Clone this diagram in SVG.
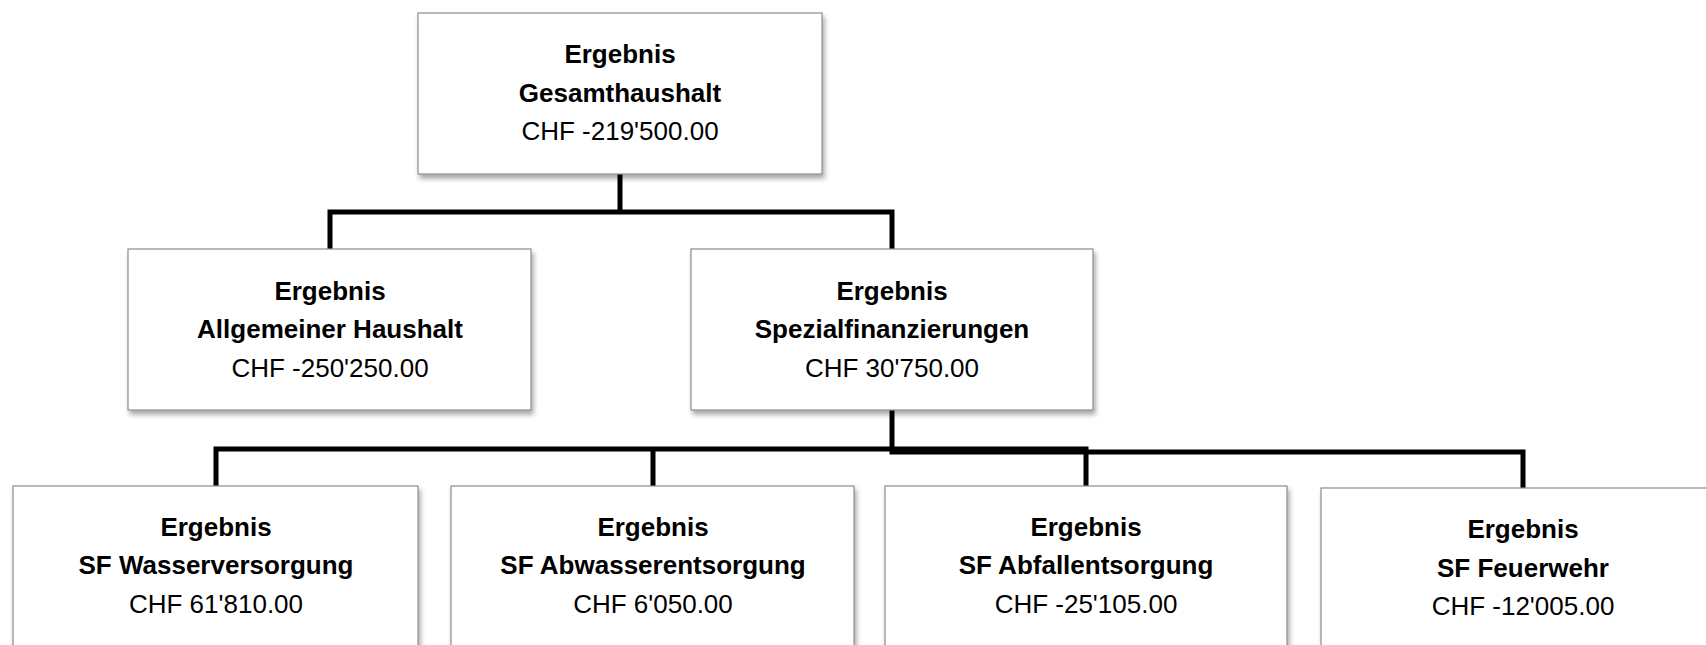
<svg xmlns="http://www.w3.org/2000/svg" width="1706" height="645" viewBox="0 0 1706 645">
<defs>
<filter id="sh" x="-10%" y="-10%" width="120%" height="130%">
<feDropShadow dx="2" dy="4" stdDeviation="2.5" flood-color="#000" flood-opacity="0.35"/>
</filter>
</defs>
<style>
.box{fill:#fff;stroke:#8c8c8c;stroke-width:1.2;filter:url(#sh)}
.t{font-family:"Liberation Sans",Arial,sans-serif;font-size:26px;fill:#000;text-anchor:middle}
.b{font-weight:bold}
.c{fill:none;stroke:#000;stroke-width:5;stroke-linecap:square}
</style>
<rect width="1706" height="645" fill="#fff"/>
<g id="connectors">
<path class="c" d="M620 174 V212 M330 212 H892 M330 212 V249 M892 212 V249"/>
<path class="c" d="M892 410 V449 M216 449 H1086 M216 449 V486 M653 449 V486 M1086 449 V486"/>
<path class="c" d="M892 452 H1523 M1523 452 V488"/>
</g>
<g id="n-gesamt">
<rect class="box" x="418" y="13" width="404" height="161"/>
<text class="t b" x="620" y="63">Ergebnis</text>
<text class="t b" x="620" y="102">Gesamthaushalt</text>
<text class="t" x="620" y="140">CHF -219'500.00</text>
</g>
<g id="n-allgemein">
<rect class="box" x="128" y="249" width="403" height="161"/>
<text class="t b" x="330" y="300">Ergebnis</text>
<text class="t b" x="330" y="338">Allgemeiner Haushalt</text>
<text class="t" x="330" y="377">CHF -250'250.00</text>
</g>
<g id="n-spezial">
<rect class="box" x="691" y="249" width="402" height="161"/>
<text class="t b" x="892" y="300">Ergebnis</text>
<text class="t b" x="892" y="338">Spezialfinanzierungen</text>
<text class="t" x="892" y="377">CHF 30'750.00</text>
</g>
<g id="n-wasser">
<rect class="box" x="13" y="486" width="405" height="200"/>
<text class="t b" x="216" y="536">Ergebnis</text>
<text class="t b" x="216" y="574">SF Wasserversorgung</text>
<text class="t" x="216" y="613">CHF 61'810.00</text>
</g>
<g id="n-abwasser">
<rect class="box" x="451" y="486" width="403" height="200"/>
<text class="t b" x="653" y="536">Ergebnis</text>
<text class="t b" x="653" y="574">SF Abwasserentsorgung</text>
<text class="t" x="653" y="613">CHF 6'050.00</text>
</g>
<g id="n-abfall">
<rect class="box" x="885" y="486" width="402" height="200"/>
<text class="t b" x="1086" y="536">Ergebnis</text>
<text class="t b" x="1086" y="574">SF Abfallentsorgung</text>
<text class="t" x="1086" y="613">CHF -25'105.00</text>
</g>
<g id="n-feuerwehr">
<rect class="box" x="1321" y="488" width="404" height="200"/>
<text class="t b" x="1523" y="538">Ergebnis</text>
<text class="t b" x="1523" y="577">SF Feuerwehr</text>
<text class="t" x="1523" y="615">CHF -12'005.00</text>
</g>
</svg>
